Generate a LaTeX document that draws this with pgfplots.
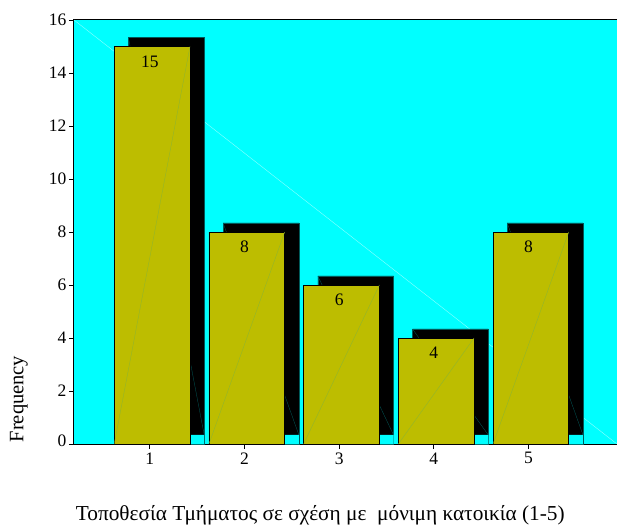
\documentclass[border=0pt]{standalone}
\usepackage{pgfplots}
\pgfplotsset{compat=1.18}
\usepackage{fontspec}
\setmainfont{Liberation Serif}
\definecolor{bg}{RGB}{0,255,255}
\definecolor{barfill}{RGB}{189,189,0}
\definecolor{diag}{RGB}{140,255,255}
\definecolor{bardiag}{RGB}{140,180,50}
\definecolor{shdiag}{RGB}{0,90,90}

\begin{document}
\begin{tikzpicture}
\path[use as bounding box] (-74pt,-81pt) rectangle (543pt,444pt);
\begin{axis}[
    scale only axis,
    width=546pt, height=424pt,
    at={(0,0)}, anchor=south west,
    xmin=0.2, xmax=5.966, ymin=0, ymax=16,
    axis background/.style={fill=bg},
    xtick={1,2,3,4,5},
    ytick={0,2,...,16},
    yticklabels={\raisebox{7pt}{0},2,4,6,8,10,12,14,16},
    tick align=outside, xtick pos=bottom, ytick pos=left,
    major tick length=5pt,
    tick style={black, line width=0.8pt},
    axis line style={line width=1pt},
    ticklabel style={font=\fontsize{17.5}{20}\selectfont},
    yticklabel style={xshift=1pt},
    /pgf/number format/assume math mode=true,
    xlabel={Τοποθεσία Τμήματος σε σχέση με \ μόνιμη κατοικία (1-5)},
    ylabel={Frequency},
    every axis x label/.style={at={(axis description cs:0.451,-0.167)}, anchor=center, font=\fontsize{21.3}{24}\selectfont},
    every axis y label/.style={at={(axis description cs:-0.101,0.106)}, rotate=90, anchor=center, font=\fontsize{20.5}{24}\selectfont},
]
% faint diagonal across the plot area
\addplot[diag, line width=0.4pt] coordinates {(0.2,16) (5.934,0)};
% shadows
\addplot[ybar, bar width=0.8, bar shift=0.175, fill=black, draw=shdiag, line width=0.4pt]
    coordinates {(1,15.34) (2,8.34) (3,6.34) (4,4.34) (5,8.34)};
\addplot[shdiag, line width=0.3pt] coordinates {(0.775,15.34) (1.575,0.34)};
\addplot[shdiag, line width=0.3pt] coordinates {(1.775,8.34) (2.575,0.34)};
\addplot[shdiag, line width=0.3pt] coordinates {(2.775,6.34) (3.575,0.34)};
\addplot[shdiag, line width=0.3pt] coordinates {(3.775,4.34) (4.575,0.34)};
\addplot[shdiag, line width=0.3pt] coordinates {(4.775,8.34) (5.575,0.34)};
\addplot[ybar, bar width=0.8, bar shift=0.175, fill=bg, draw=none]
    coordinates {(1,0.34) (2,0.34) (3,0.34) (4,0.34) (5,0.34)};
% main bars
\addplot[ybar, bar width=0.8, bar shift=0.025, fill=barfill, draw=black, line width=0.8pt,
    nodes near coords,
    every node near coord/.style={anchor=center, yshift=-15pt, font=\fontsize{17.5}{20}\selectfont, text=black}]
    coordinates {(1,15) (2,8) (3,6) (4,4) (5,8)};
\addplot[bardiag, line width=0.35pt] coordinates {(0.625,0) (1.425,15)};
\addplot[bardiag, line width=0.35pt] coordinates {(1.625,0) (2.425,8)};
\addplot[bardiag, line width=0.35pt] coordinates {(2.625,0) (3.425,6)};
\addplot[bardiag, line width=0.35pt] coordinates {(3.625,0) (4.425,4)};
\addplot[bardiag, line width=0.35pt] coordinates {(4.625,0) (5.425,8)};
\end{axis}
\end{tikzpicture}
\end{document}
